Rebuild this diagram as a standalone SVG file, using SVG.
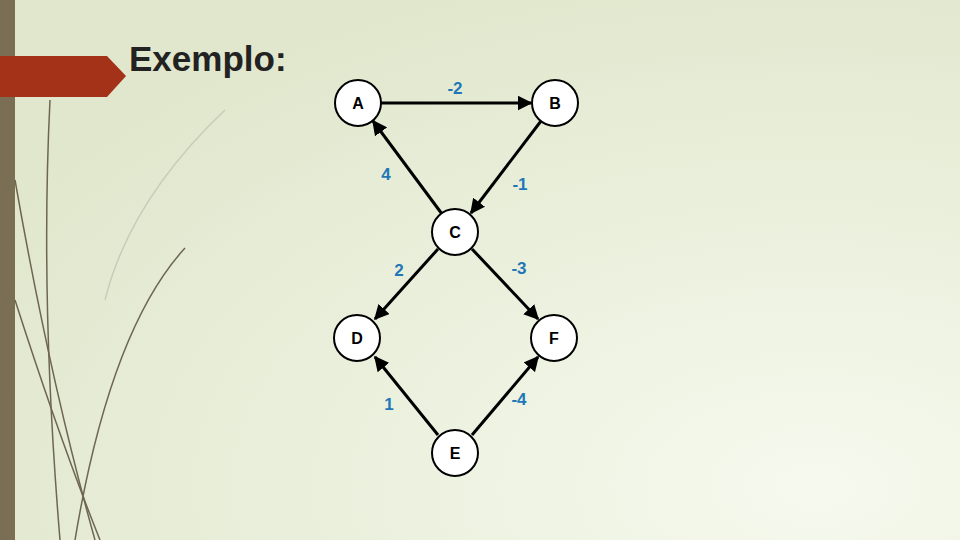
<svg xmlns="http://www.w3.org/2000/svg" width="960" height="540" viewBox="0 0 960 540">
<defs>
<radialGradient id="bg" cx="0.85" cy="0.9" r="1">
<stop offset="0" stop-color="#f6f9ee"/><stop offset="1" stop-color="#e0e7cc"/>
</radialGradient>
<marker id="ah" viewBox="0 0 10 10" refX="9" refY="5" markerWidth="5" markerHeight="5" orient="auto"><path d="M0,0 L10,5 L0,10 z" fill="#000"/></marker>
<style>
.n circle{fill:#fff;stroke:#000;stroke-width:2}
.n text{font-family:"Liberation Sans",Arial,sans-serif;font-weight:bold;font-size:16px;text-anchor:middle}
.e line{stroke:#000;stroke-width:3;marker-end:url(#ah)}
.w{font-family:"Liberation Sans",Arial,sans-serif;font-weight:bold;font-size:17px;fill:#1f77b8;text-anchor:middle}
.d{fill:none;stroke:#6e6650;stroke-width:1.5}
</style>
</defs>
<rect width="960" height="540" fill="url(#bg)"/>
<rect x="0" y="0" width="15" height="540" fill="#7a6f55"/>
<g id="decor">
<path class="d" d="M50 100 Q40 300 60 540"/>
<path class="d" d="M15 180 Q50 380 95 540"/>
<path class="d" d="M15 300 Q60 440 100 540"/>
<path class="d" d="M185 248 Q110 330 75 540"/>
<path d="M225 110 Q130 200 105 300" fill="none" stroke="#c8ccb8" stroke-width="1.5"/>
</g>
<path d="M0 56 H107 L126 76 L107 97 H0 Z" fill="#a33218"/>
<text x="129" y="71" font-family="Liberation Sans,Arial,sans-serif" font-weight="bold" font-size="35" fill="#222">Exemplo:</text>
<g id="edges" class="e">
<line x1="381" y1="103" x2="531" y2="103"/>
<line x1="442" y1="214" x2="373" y2="121"/>
<line x1="541" y1="121" x2="471" y2="213"/>
<line x1="438" y1="249" x2="375" y2="319"/>
<line x1="472" y1="249" x2="538" y2="319"/>
<line x1="438" y1="435" x2="375" y2="357"/>
<line x1="472" y1="435" x2="538" y2="357"/>
</g>
<g id="labels">
<text class="w" x="455" y="94">-2</text>
<text class="w" x="386" y="180">4</text>
<text class="w" x="520" y="190">-1</text>
<text class="w" x="399" y="276">2</text>
<text class="w" x="519" y="274">-3</text>
<text class="w" x="389" y="410">1</text>
<text class="w" x="519" y="405">-4</text>
</g>
<g id="A" class="n"><circle cx="358" cy="103" r="23"/><text x="358" y="109">A</text></g>
<g id="B" class="n"><circle cx="555" cy="103" r="23"/><text x="555" y="109">B</text></g>
<g id="C" class="n"><circle cx="455" cy="232" r="23"/><text x="455" y="238">C</text></g>
<g id="D" class="n"><circle cx="357" cy="338" r="23"/><text x="357" y="344">D</text></g>
<g id="F" class="n"><circle cx="554" cy="338" r="23"/><text x="554" y="344">F</text></g>
<g id="E" class="n"><circle cx="455" cy="453" r="23"/><text x="455" y="459">E</text></g>
</svg>
